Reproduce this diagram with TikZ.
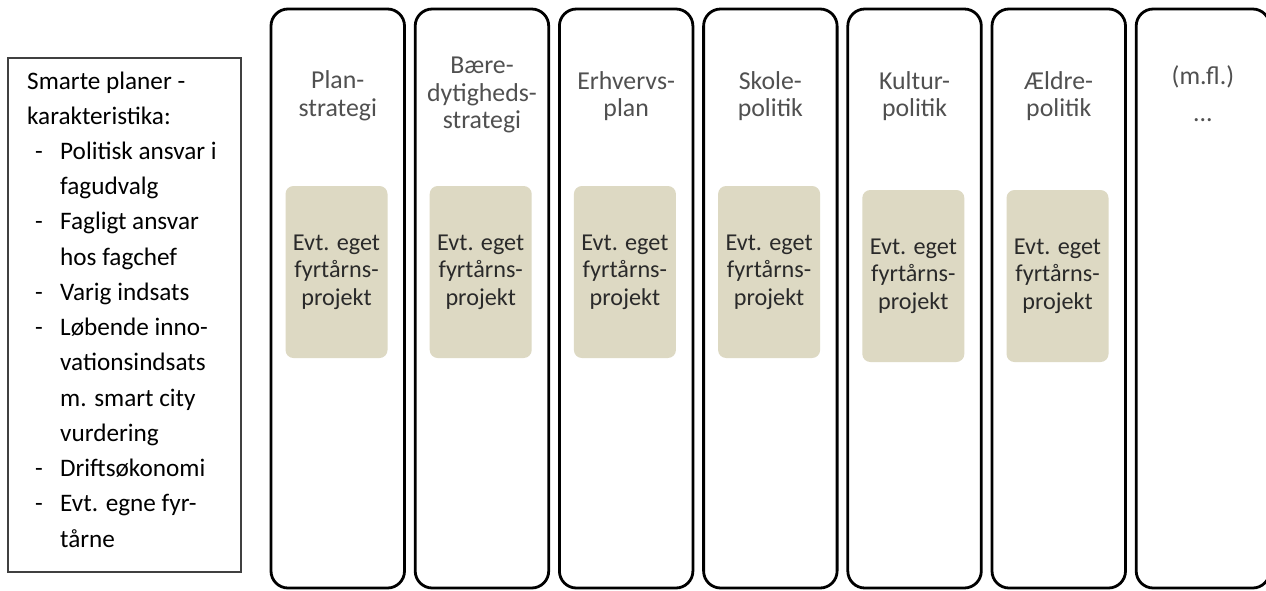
\documentclass[tikz,border=0pt]{standalone}
\usepackage{fontspec}
\setmainfont{Carlito}
\definecolor{beige}{HTML}{DDD9C3}
\definecolor{headgray}{HTML}{505050}
\definecolor{boxtext}{HTML}{2A2A2A}
\definecolor{frame}{HTML}{404040}
\tikzset{
  colbox/.style={draw=black, line width=2.8pt, rounded corners=17pt},
  lighthouse/.style={fill=beige, rounded corners=8pt},
  headtxt/.style={text=headgray, align=center, inner sep=0pt,
     font=\fontsize{25.8}{27.5}\selectfont},
  lhtxt/.style={text=boxtext, align=center, inner sep=0pt,
     font=\fontsize{24.2}{27.5}\selectfont},
  lefttxt/.style={anchor=base west, inner sep=0pt, text=black,
     font=\fontsize{25.2}{30}\selectfont},
}
\newcommand{\itm}[1]{\hspace*{8pt}\makebox[25pt][l]{-}#1}
\newcommand{\cnt}[1]{\hspace*{33pt}#1}
\begin{document}
\begin{tikzpicture}[x=1pt,y=-1pt]
\clip (0,0) rectangle (1266,590);
\fill[white] (0,0) rectangle (1266,590);
% left frame
\draw[frame, line width=1.4pt] (8,58) rectangle (241,572);
\def\bl{89}
\def\sp{35.23}
\node[lefttxt] (t1) at (27,{\bl+0*\sp}) {Smarte planer -};
\node[lefttxt] (t2) at (27,{\bl+1*\sp}) {karakteristika:};
\node[lefttxt] (t3) at (27,{\bl+2*\sp}) {\itm{Politisk ansvar i}};
\node[lefttxt] (t4) at (27,{\bl+3*\sp}) {\cnt{fagudvalg}};
\node[lefttxt] (t5) at (27,{\bl+4*\sp}) {\itm{Fagligt ansvar}};
\node[lefttxt] (t6) at (27,{\bl+5*\sp}) {\cnt{hos fagchef}};
\node[lefttxt] (t7) at (27,{\bl+6*\sp}) {\itm{Varig indsats}};
\node[lefttxt] (t8) at (27,{\bl+7*\sp}) {\itm{Løbende inno-}};
\node[lefttxt] (t9) at (27,{\bl+8*\sp}) {\cnt{vationsindsats}};
\node[lefttxt] (t10) at (27,{\bl+9*\sp}) {\cnt{m. smart city}};
\node[lefttxt] (t11) at (27,{\bl+10*\sp}) {\cnt{vurdering}};
\node[lefttxt] (t12) at (27,{\bl+11*\sp}) {\itm{Driftsøkonomi}};
\node[lefttxt] (t13) at (27,{\bl+12*\sp}) {\itm{Evt. egne fyr-}};
\node[lefttxt] (t14) at (27,{\bl+13*\sp}) {\cnt{tårne}};
% columns
\foreach \i in {0,...,6}{
  \draw[colbox] ({271+144.2*\i},9) rectangle ({404.5+144.2*\i},588);
}
% headers
\node[headtxt] (h1) at ({337.75+144.2*0},96) {Plan-\\strategi};
\node[headtxt] (h2) at ({337.75+144.2*1},95) {Bære-\\dytigheds-\\strategi};
\node[headtxt] (h3) at ({337.75+144.2*2},96) {Erhvervs-\\plan};
\node[headtxt] (h4) at ({337.75+144.2*3},96) {Skole-\\politik};
\node[headtxt] (h5) at ({337.75+144.2*4},96) {Kultur-\\politik};
\node[headtxt] (h6) at ({337.75+144.2*5},96) {Ældre-\\politik};
\node[headtxt, anchor=base] (h7) at ({337.75+144.2*6},84) {(m.fl.)};
\node[headtxt, anchor=base] (h7b) at ({337.75+144.2*6},121) {...};
% lighthouse project boxes
\foreach \i/\top in {0/186,1/186,2/186,3/186,4/190,5/190}{
  \fill[lighthouse] ({285.5+144.2*\i},\top) rectangle ({387.5+144.2*\i},{\top+172});
  \node[lhtxt] (p\i) at ({336.5+144.2*\i},{\top+86}) {Evt. eget\\fyrtårns-\\projekt};
}
\end{tikzpicture}
\end{document}
